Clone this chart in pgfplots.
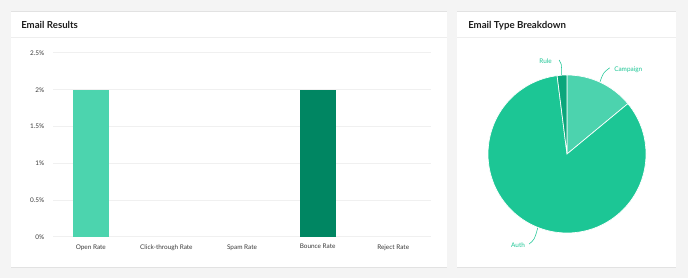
\documentclass[border=0pt]{standalone}
\usepackage{fontspec}
\setmainfont{Lato}
\usepackage{pgfplots}
\pgfplotsset{compat=1.18}
\definecolor{bg}{HTML}{F4F4F4}
\definecolor{shadow}{HTML}{E2E2E2}
\definecolor{sepc}{HTML}{EEEEEE}
\definecolor{gridc}{HTML}{F0F0F0}
\definecolor{labc}{HTML}{3A3A3A}
\definecolor{titlec}{HTML}{1E1E1E}
\definecolor{cOpen}{HTML}{4CD4AE}
\definecolor{cBounce}{HTML}{008662}
\definecolor{cAuth}{HTML}{1CC695}
\definecolor{cCamp}{HTML}{4CD3AE}
\definecolor{cRule}{HTML}{0BA67B}
\definecolor{pielab}{HTML}{1CC695}
% pie values (percent)
\def\vCamp{14}
\def\vAuth{84}
\def\vRule{2}
\pgfmathsetmacro\aS{90}
\pgfmathsetmacro\aCamp{\aS-3.6*\vCamp}
\pgfmathsetmacro\aAuth{\aCamp-3.6*\vAuth}
\pgfmathsetmacro\aRule{\aAuth-3.6*\vRule}
\begin{document}
\begin{tikzpicture}
\begin{scope}[x=0.75pt,y=0.75pt]
\useasboundingbox (0,0) rectangle (688,278);
\fill[bg] (0,0) rectangle (688,278);
% cards
\fill[shadow] (10.6,10.2) rectangle (447.4,266.6);
\fill[white] (11,11.2) rectangle (447,266.3);
\fill[shadow] (456.6,10.2) rectangle (676.4,266.6);
\fill[white] (457,11.2) rectangle (676,266.3);
\draw[sepc, line width=0.75pt] (11,240.7) -- (447,240.7);
\draw[sepc, line width=0.75pt] (457,240.7) -- (676,240.7);
\node[anchor=base west, inner sep=0pt, text=titlec, font=\fontsize{7.25}{9}\selectfont\bfseries] at (21,249.8) {Email Results};
\node[anchor=base west, inner sep=0pt, text=titlec, font=\fontsize{7.25}{9}\selectfont\bfseries] at (468,249.8) {Email Type Breakdown};
\end{scope}
% bar chart
\begin{axis}[at={(39.75pt,30.75pt)}, anchor=south west, scale only axis,
  width=283.5pt, height=138pt,
  xmin=-0.5, xmax=4.5, ymin=0, ymax=2.5,
  axis line style={draw=none},
  ytick={0,0.5,1,1.5,2,2.5},
  ymajorgrids, grid style={color=gridc, line width=0.75pt},
  major tick length=0pt,
  xtick={0,1,2,3,4},
  xticklabels={Open Rate, Click-through Rate, Spam Rate, Bounce Rate, Reject Rate},
  tick label style={font=\fontsize{4.8}{5.5}\selectfont, text=labc},
  /pgf/number format/assume math mode=true,
  yticklabel={\pgfmathprintnumber{\tick}\%},
  xticklabel style={yshift=-2pt},
  yticklabel style={xshift=-3pt},
  clip=false]
\addplot[ybar, bar width=27pt, bar shift=0pt, fill=cOpen, draw=none] coordinates {(0,2)};
\addplot[ybar, bar width=27pt, bar shift=0pt, fill=none, draw=none] coordinates {(1,0) (2,0) (4,0)};
\addplot[ybar, bar width=27pt, bar shift=0pt, fill=cBounce, draw=none] coordinates {(3,2)};
\end{axis}
% pie chart
\begin{axis}[at={(425.25pt,93pt)}, anchor=center, scale only axis,
  width=118.5pt, height=118.5pt,
  xmin=-1, xmax=1, ymin=-1, ymax=1, hide axis, clip=false]
\fill[cCamp, draw=white, line width=0.5pt] (axis cs:0,0) -- ++(\aS:59.25pt) arc[start angle=\aS, end angle=\aCamp, radius=59.25pt] -- cycle;
\fill[cAuth, draw=white, line width=0.5pt] (axis cs:0,0) -- ++(\aCamp:59.25pt) arc[start angle=\aCamp, end angle=\aAuth, radius=59.25pt] -- cycle;
\fill[cRule, draw=white, line width=0.5pt] (axis cs:0,0) -- ++(\aAuth:59.25pt) arc[start angle=\aAuth, end angle=\aRule, radius=59.25pt] -- cycle;
\draw[pielab, line width=0.4pt] (axis cs:0.418,0.915) .. controls (axis cs:0.46,1.03) .. (axis cs:0.54,1.09);
\draw[pielab, line width=0.4pt] (axis cs:-0.067,1.0) .. controls (axis cs:-0.07,1.15) .. (axis cs:-0.10,1.19);
\draw[pielab, line width=0.4pt] (axis cs:-0.371,-0.937) .. controls (axis cs:-0.41,-1.08) .. (axis cs:-0.48,-1.14);
\node[anchor=west, inner sep=0pt, text=pielab, font=\fontsize{4.8}{5.5}\selectfont] at (axis cs:0.595,1.07) {Campaign};
\node[anchor=east, inner sep=0pt, text=pielab, font=\fontsize{4.8}{5.5}\selectfont] at (axis cs:-0.19,1.18) {Rule};
\node[anchor=east, inner sep=0pt, text=pielab, font=\fontsize{4.8}{5.5}\selectfont] at (axis cs:-0.53,-1.15) {Auth};
\end{axis}
\end{tikzpicture}
\end{document}
